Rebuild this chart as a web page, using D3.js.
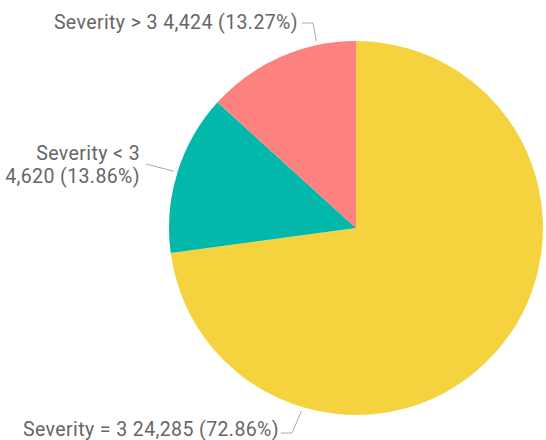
<!DOCTYPE html>
<html>
<head>
<meta charset="utf-8">
<script src="https://cdn.jsdelivr.net/npm/d3@7"></script>
<style>
  body { margin: 0; background: #fff; }
  svg text { font-family: Roboto, sans-serif; fill: #666; letter-spacing: 0.4px; }
</style>
</head>
<body>
<svg id="chart" width="546" height="440"></svg>
<script>
const categories = ['Severity = 3', 'Severity < 3', 'Severity > 3'];
const counts = [24285, 4620, 4424];
const percents = ['72.86%', '13.86%', '13.27%'];
const colors = ['#F5D33F', '#01B8AA', '#FD817E'];

// where each label sits (layout only)
const labelLayout = [
    { angle: 196.6, lines: 1, x: 279, y: 436, elbow: [[281, 433], [292, 433]] },
    { angle: 287.3, lines: 2, x: 140, y: 160, elbow: [[146, 164]] },
    { angle: 348, lines: 1, x: 298, y: 29, elbow: [[302, 23], [313, 23]] }
];

const cx = 356, cy = 228, radius = 187;
const fmt = d3.format(',');

let svg = d3.select('#chart');
let g = svg.append('g').attr('transform', `translate(${cx},${cy})`);

let pie = d3.pie().sort(null).value(d => d);
let arc = d3.arc().innerRadius(0).outerRadius(radius);
let arcs = pie(counts);

g.selectAll('path.slice')
    .data(arcs)
    .enter()
    .append('path')
    .classed('slice', true)
    .attr('d', arc)
    .attr('fill', (d, i) => colors[i]);

// leader lines + labels
labelLayout.forEach((lab, i) => {
    let a = lab.angle * Math.PI / 180;
    let r = radius + 4;
    let end = [cx + r * Math.sin(a), cy - r * Math.cos(a)];
    let pts = lab.elbow.concat([end]);
    svg.append('path')
        .attr('d', d3.line()(pts))
        .attr('fill', 'none')
        .attr('stroke', '#aaa')
        .attr('stroke-width', 1);

    let t = svg.append('text')
        .attr('text-anchor', 'end')
        .attr('font-size', 19.5);
    let valueText = fmt(counts[i]) + ' (' + percents[i] + ')';
    if (lab.lines === 1) {
        t.attr('x', lab.x).attr('y', lab.y).text(categories[i] + ' ' + valueText);
    } else {
        t.append('tspan').attr('x', lab.x).attr('y', lab.y).text(categories[i]);
        t.append('tspan').attr('x', lab.x).attr('y', lab.y + 23).text(valueText);
    }
});
</script>
</body>
</html>
